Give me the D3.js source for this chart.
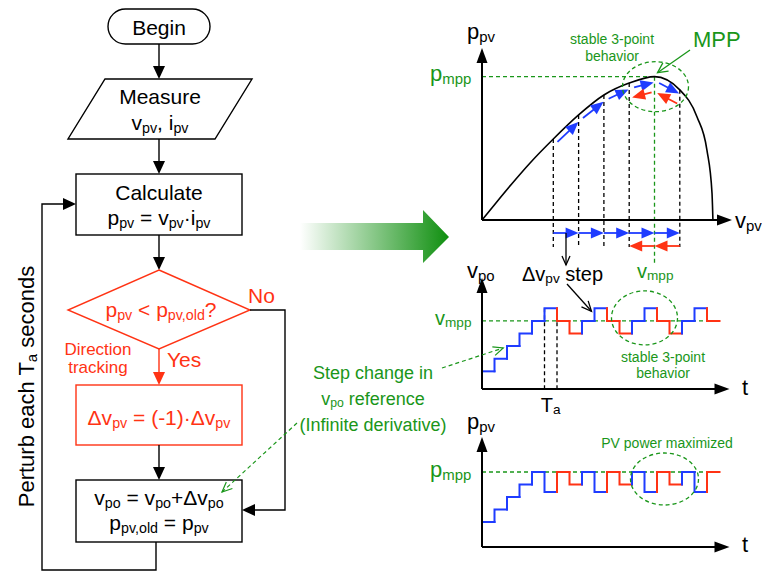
<!DOCTYPE html>
<html>
<head>
<meta charset="utf-8">
<style>
  body { margin: 0; background: #fff; }
  svg text { font-family: Helvetica, "Liberation Sans", Arial, sans-serif; white-space: pre; }
</style>
</head>
<body>
<script src="https://cdn.jsdelivr.net/npm/d3@7"></script>
<script>
// ---------- data ----------
// flowchart texts (top to bottom)
const beginText = "Begin";
const measureText = ["Measure", "v_{pv}, i_{pv}"];
const calcText = ["Calculate", "p_{pv} = v_{pv}·i_{pv}"];
const decisionText = "p_{pv} < p_{pv,old}?";
const invertText = "Δv_{pv} = (-1)·Δv_{pv}";
const updateText = ["v_{po} = v_{po}+Δv_{po}", "p_{pv,old} = p_{pv}"];
const loopText = "Perturb each T_{a} seconds";

// P-V curve (v and p in % of Voc / Pmpp)
const pvV = [0, 6.5, 13, 20.9, 31, 42, 53, 64, 75, 86, 93.5, 97.8, 100, 100.4];
const pvP = [0, 12.8, 25.3, 39.8, 56.5, 73.3, 87.2, 95.5, 100, 90.8, 71.9, 48.8, 18.8, 0];
// perturbation operating points on the curve
const opV = [31, 42, 53, 64, 75, 86];
const vMpp = 75;

// step signals, one value per T_a interval (in Δv steps relative to mpp)
const vpoLevels = [-4, -3, -2, -1, 0, 1, 0, -1, 0, 1, 0, -1, 0, 1, 0, -1, 0, 1, 0];
const ppvLevels = [-4, -3, -2, -1, 0, -1.6, 0, -1, 0, -1.6, 0, -1, 0, -1.6, 0, -1, 0, -1.6, 0];
const stepDir   = [1, 1, 1, 1, 1, 1, -1, -1, 1, 1, -1, -1, 1, 1, -1, -1, 1, 1, -1];

const RED = "#ff3314", BLUE = "#1f3cff", GREEN = "#1a961a";

// ---------- helpers ----------
const svg = d3.select("body").append("svg").attr("width", 762).attr("height", 572);

function rich(g, x, y, str, size, o = {}) {
  const t = g.append("text").attr("x", x).attr("y", y)
    .attr("font-size", size).attr("fill", o.fill || "#000")
    .attr("text-anchor", o.anchor || "start");
  if (o.rotate) t.attr("transform", `rotate(${o.rotate},${x},${y})`);
  const sub = size * 0.68, shift = size * 0.12;
  let down = false;
  str.split(/(_\{[^}]*\})/).filter(s => s).forEach(s => {
    const isSub = s.startsWith("_{");
    const ts = t.append("tspan").text(isSub ? s.slice(2, -1) : s);
    if (isSub) { ts.attr("font-size", sub); if (!down) ts.attr("dy", shift); down = true; }
    else if (down) { ts.attr("dy", -shift); down = false; }
  });
  return t;
}

function arrow(g, pts, o = {}) {
  const c = o.color || "#000", len = o.len || 13, half = o.half || 6, w = o.width || 1.4;
  const n = pts.length, [x1, y1] = pts[n - 2], [x2, y2] = pts[n - 1];
  const a = Math.atan2(y2 - y1, x2 - x1), ux = Math.cos(a), uy = Math.sin(a);
  const line = pts.slice();
  if (!o.open) line[n - 1] = [x2 - ux * len * 0.7, y2 - uy * len * 0.7];
  g.append("path").attr("d", d3.line()(line)).attr("fill", "none")
    .attr("stroke", c).attr("stroke-width", w).attr("stroke-dasharray", o.dash || null);
  const b = [x2 - ux * len, y2 - uy * len];
  const head = [[b[0] - uy * half, b[1] + ux * half], [x2, y2], [b[0] + uy * half, b[1] - ux * half]];
  if (o.open) g.append("path").attr("d", d3.line()(head)).attr("fill", "none").attr("stroke", c).attr("stroke-width", w);
  else g.append("path").attr("d", d3.line()(head) + "Z").attr("fill", c);
}

function dashed(g, pts, color, w) {
  g.append("path").attr("d", d3.line()(pts)).attr("fill", "none")
    .attr("stroke", color).attr("stroke-width", w || 1.3).attr("stroke-dasharray", "4,3");
}

// ---------- flowchart ----------
const fc = svg.append("g");
const cx = 159;
const box = (x, y, w, h, col) => fc.append("rect").attr("x", x).attr("y", y).attr("width", w).attr("height", h)
  .attr("fill", "#fff").attr("stroke", col || "#000").attr("stroke-width", 1.4);

fc.append("rect").attr("x", 108).attr("y", 9).attr("width", 102).attr("height", 35).attr("rx", 17.5)
  .attr("fill", "#fff").attr("stroke", "#000").attr("stroke-width", 1.4);
rich(fc, cx, 35, beginText, 21, { anchor: "middle" });
arrow(fc, [[cx, 44], [cx, 79]]);

fc.append("path").attr("d", d3.line()([[105, 79], [252, 79], [215, 139], [68, 139]]) + "Z")
  .attr("fill", "#fff").attr("stroke", "#000").attr("stroke-width", 1.4);
rich(fc, 160, 104, measureText[0], 21, { anchor: "middle" });
rich(fc, 160, 130, measureText[1], 21, { anchor: "middle" });
arrow(fc, [[cx, 139], [cx, 174]]);

box(76, 174, 166, 61);
rich(fc, cx, 200, calcText[0], 21, { anchor: "middle" });
rich(fc, cx, 225, calcText[1], 21, { anchor: "middle" });
arrow(fc, [[cx, 235], [cx, 270]]);

fc.append("path").attr("d", d3.line()([[cx, 270], [250, 310], [cx, 349], [68, 310]]) + "Z")
  .attr("fill", "#fff").attr("stroke", RED).attr("stroke-width", 1.4);
rich(fc, 161, 317, decisionText, 21, { anchor: "middle", fill: RED });
rich(fc, 248, 303, "No", 21, { fill: RED });
rich(fc, 167, 367, "Yes", 21, { fill: RED });
rich(fc, 98, 355, "Direction", 17, { anchor: "middle", fill: RED });
rich(fc, 98, 373, "tracking", 17, { anchor: "middle", fill: RED });
arrow(fc, [[cx, 349], [cx, 385]], { color: RED });

box(76, 385, 166, 60, RED);
rich(fc, cx, 425, invertText, 21, { anchor: "middle", fill: RED });
arrow(fc, [[cx, 445], [cx, 480]]);

box(76, 480, 166, 62);
rich(fc, cx, 505, updateText[0], 21, { anchor: "middle" });
rich(fc, cx, 530, updateText[1], 21, { anchor: "middle" });

arrow(fc, [[250, 310], [285, 310], [285, 510], [242, 510]]);
arrow(fc, [[156, 542], [156, 570], [42, 570], [42, 204], [76, 204]]);
rich(fc, 34, 386.5, loopText, 22, { anchor: "middle", rotate: -90 });

// ---------- big green arrow ----------
const grad = svg.append("defs").append("linearGradient").attr("id", "gArrow")
  .attr("gradientUnits", "userSpaceOnUse").attr("x1", 300).attr("x2", 449).attr("y1", 0).attr("y2", 0);
grad.append("stop").attr("offset", 0).attr("stop-color", "#fff");
grad.append("stop").attr("offset", 1).attr("stop-color", "#0f8f0f");
svg.append("path").attr("d", d3.line()([[300, 223], [423, 223], [423, 210], [449, 237], [423, 263], [423, 250], [300, 250]]) + "Z")
  .attr("fill", "url(#gArrow)");

// ---------- P-V curve ----------
const pvG = svg.append("g");
const xPV = d3.scaleLinear([0, 100], [482, 712]);
const yPV = d3.scaleLinear([0, 120], [220, 48]);
const pAt = v => pvP[pvV.indexOf(v)];
const rowBlue = 233, rowRed = 246;

dashed(pvG, [[xPV(0), yPV(100)], [xPV(vMpp), yPV(100)]], GREEN);
dashed(pvG, [[xPV(vMpp), yPV(100)], [xPV(vMpp), 263]], GREEN);
opV.filter(v => v !== vMpp).forEach(v => dashed(pvG, [[xPV(v), yPV(pAt(v))], [xPV(v), rowRed + 1]], "#000"));

pvG.append("path").datum(pvV.map((v, i) => [v, pvP[i]]))
  .attr("d", d3.line().x(d => xPV(d[0])).y(d => yPV(d[1])).curve(d3.curveMonotoneX))
  .attr("fill", "none").attr("stroke", "#000").attr("stroke-width", 1.6);

arrow(pvG, [[xPV(0), yPV(0)], [xPV(0), yPV(120)]], { len: 15, half: 5.5, width: 2 });
arrow(pvG, [[xPV(0), yPV(0)], [xPV(108.7), yPV(0)]], { len: 15, half: 5.5, width: 2 });

// blue/red arrows along the curve
for (let i = 0; i < opV.length - 1; i++) {
  const a = [xPV(opV[i]), yPV(pAt(opV[i]))], b = [xPV(opV[i + 1]), yPV(pAt(opV[i + 1]))];
  const dx = b[0] - a[0], dy = b[1] - a[1], L = Math.hypot(dx, dy);
  const s = [a[0] + dx / L * 3 + 2, a[1] + dy / L * 3 + 5], e = [b[0] - dx / L * 3 + 2, b[1] - dy / L * 3 + 5];
  arrow(pvG, [s, e], { color: BLUE, len: 13, half: 5.5, width: 1.8 });
  arrow(pvG, [[xPV(opV[i]), rowBlue], [xPV(opV[i + 1]), rowBlue]], { color: BLUE, len: 13, half: 5.5, width: 1.8 });
}
[[5, 4], [4, 3]].forEach(([i, j]) => {
  const a = [xPV(opV[i]), yPV(pAt(opV[i]))], b = [xPV(opV[j]), yPV(pAt(opV[j]))];
  const dx = b[0] - a[0], dy = b[1] - a[1], L = Math.hypot(dx, dy);
  arrow(pvG, [[a[0] + dx / L * 3, a[1] + dy / L * 3 + 15], [b[0] - dx / L * 3, b[1] - dy / L * 3 + 15]], { color: RED, len: 13, half: 5.5, width: 1.8 });
  arrow(pvG, [[xPV(opV[i]), rowRed], [xPV(opV[j]), rowRed]], { color: RED, len: 13, half: 5.5, width: 1.8 });
});

pvG.append("ellipse").attr("cx", xPV(vMpp) + 1).attr("cy", yPV(100) + 10).attr("rx", 33).attr("ry", 25)
  .attr("fill", "none").attr("stroke", GREEN).attr("stroke-width", 1.3).attr("stroke-dasharray", "4,3");

rich(pvG, 467, 39, "p_{pv}", 22);
rich(pvG, 735, 228, "v_{pv}", 22);
rich(pvG, 430, 81, "p_{mpp}", 22, { fill: GREEN });
rich(pvG, 693, 47, "MPP", 22, { fill: GREEN });
rich(pvG, 612, 44, "stable 3-point", 14, { anchor: "middle", fill: GREEN });
rich(pvG, 612, 61, "behavior", 14, { anchor: "middle", fill: GREEN });
arrow(pvG, [[690, 50], [xPV(vMpp) + 3, yPV(100) - 4]], { color: GREEN, open: true, len: 10, half: 5, width: 1.3 });
rich(pvG, 637, 278, "v_{mpp}", 20, { fill: GREEN });

// ---------- step signals ----------
const tX = d3.scaleLinear([0, 19], [482, 719.5]);
const yV = d3.scaleLinear([-5.4, 3.4], [389, 278]);
const yP = d3.scaleLinear([-6, 2.8], [547, 437]);

function steps(g, levels, y) {
  levels.forEach((lv, i) => {
    const p = i === 0 ? [[tX(0), y(lv)]] : [[tX(i), y(levels[i - 1])], [tX(i), y(lv)]];
    p.push([tX(i + 1), y(lv)]);
    g.append("path").attr("d", d3.line()(p)).attr("fill", "none")
      .attr("stroke", stepDir[i] > 0 ? BLUE : RED).attr("stroke-width", 2).attr("stroke-linecap", "square");
  });
}

const mid = svg.append("g");
dashed(mid, [[tX(0), yV(0)], [tX(19), yV(0)]], GREEN);
dashed(mid, [[tX(5), yV(1)], [tX(5), yV(-5.4)]], "#000");
dashed(mid, [[tX(6), yV(1)], [tX(6), yV(-5.4)]], "#000");
steps(mid, vpoLevels, yV);
arrow(mid, [[tX(0), yV(-5.4)], [tX(0), yV(3.4)]], { len: 15, half: 5.5, width: 2 });
arrow(mid, [[tX(0), yV(-5.4)], [tX(19.8), yV(-5.4)]], { len: 15, half: 5.5, width: 2 });
mid.append("ellipse").attr("cx", tX(13)).attr("cy", yV(0) - 3).attr("rx", 33).attr("ry", 27)
  .attr("fill", "none").attr("stroke", GREEN).attr("stroke-width", 1.3).attr("stroke-dasharray", "4,3");
rich(mid, 467, 278, "v_{po}", 22);
rich(mid, 742, 395, "t", 22);
rich(mid, 435, 325, "v_{mpp}", 20, { fill: GREEN });
rich(mid, (tX(5) + tX(6)) / 2, 412, "T_{a}", 20, { anchor: "middle" });
rich(mid, 663, 362, "stable 3-point", 14, { anchor: "middle", fill: GREEN });
rich(mid, 663, 378, "behavior", 14, { anchor: "middle", fill: GREEN });
rich(mid, 522, 281, "Δv_{pv} step", 20);
arrow(mid, [[566, rowBlue], [566, 265]], { open: true, len: 9, half: 4, width: 1.3 });
arrow(mid, [[567, 284], [tX(9) - 3, yV(1) + 3]], { open: true, len: 10, half: 4.5, width: 1.3 });

rich(mid, 373, 379, "Step change in", 18, { anchor: "middle", fill: GREEN });
rich(mid, 373, 405, "v_{po} reference", 18, { anchor: "middle", fill: GREEN });
rich(mid, 373, 431, "(Infinite derivative)", 18, { anchor: "middle", fill: GREEN });
arrow(mid, [[442, 368], [tX(1.7), yV(-2.15)]], { color: GREEN, open: true, dash: "4,3", len: 10, half: 4.5, width: 1.2 });
arrow(mid, [[297, 423], [222, 492]], { color: GREEN, open: true, dash: "4,3", len: 10, half: 4.5, width: 1.2 });

const bot = svg.append("g");
dashed(bot, [[tX(0), yP(0)], [tX(19), yP(0)]], GREEN);
steps(bot, ppvLevels, yP);
arrow(bot, [[tX(0), yP(-6)], [tX(0), yP(2.8)]], { len: 15, half: 5.5, width: 2 });
arrow(bot, [[tX(0), yP(-6)], [tX(19.8), yP(-6)]], { len: 15, half: 5.5, width: 2 });
bot.append("ellipse").attr("cx", tX(14.6)).attr("cy", yP(0) + 7).attr("rx", 34).attr("ry", 26)
  .attr("fill", "none").attr("stroke", GREEN).attr("stroke-width", 1.3).attr("stroke-dasharray", "4,3");
rich(bot, 467, 429, "p_{pv}", 22);
rich(bot, 742, 552, "t", 22);
rich(bot, 430, 477, "p_{mpp}", 22, { fill: GREEN });
rich(bot, 667, 448, "PV power maximized", 14, { anchor: "middle", fill: GREEN });
</script>
</body>
</html>
